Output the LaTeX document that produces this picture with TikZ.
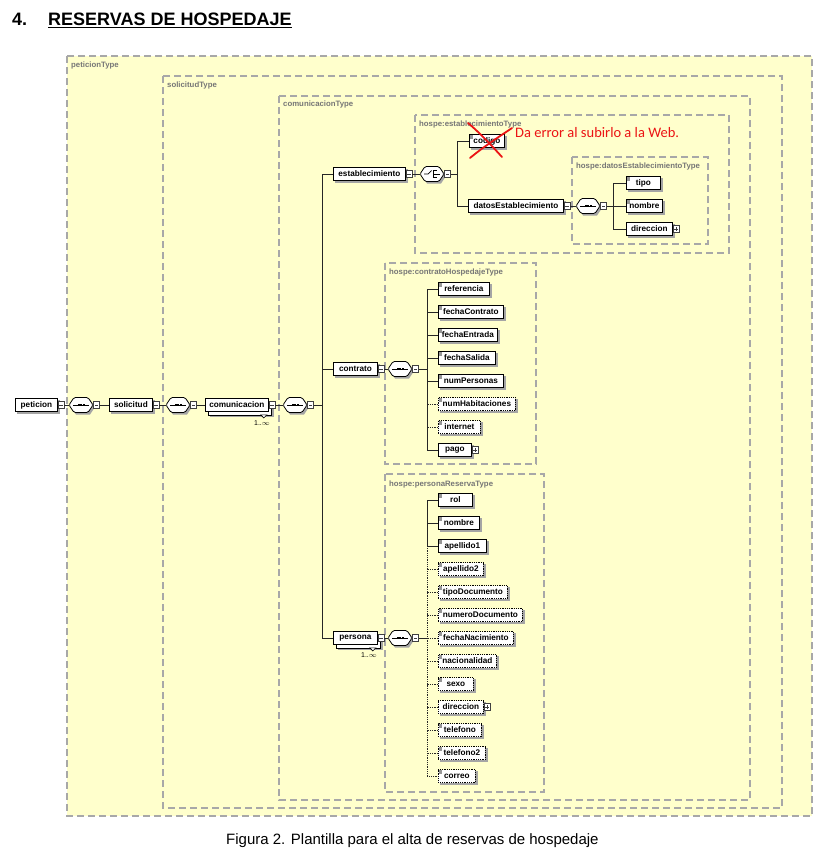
\documentclass[tikz,border=0pt]{standalone}
\usepackage{fontspec}
\setmainfont{Liberation Sans}
\newfontfamily\calibrifont{Carlito}

\definecolor{typefill}{RGB}{255,255,204}
\definecolor{typeline}{RGB}{168,168,168}
\definecolor{typelabel}{RGB}{118,118,118}
\definecolor{shadegray}{RGB}{165,165,165}
\definecolor{icongray}{RGB}{150,150,150}
\definecolor{errred}{RGB}{235,20,20}

\pgfdeclarelayer{types}
\pgfdeclarelayer{shades}
\pgfsetlayers{types,shades,main}

\tikzset{
  typebox/.style={draw=typeline, fill=typefill, line width=1.2pt, dash pattern=on 7pt off 4pt},
  typelbl/.style={anchor=west, text=typelabel, inner sep=0pt,
    font=\fontsize{7.8}{9}\selectfont\bfseries},
  elem/.style={draw, fill=white, line width=0.8pt, minimum height=13pt, inner sep=0pt,
    anchor=west, font=\fontsize{8.2}{9}\selectfont\bfseries},
  optelem/.style={elem, densely dotted},
  mbtn/.style={draw=black!75, fill=white, line width=0.6pt, minimum width=6pt, minimum height=6.5pt,
    inner sep=0pt, anchor=west,
    path picture={\draw[line width=0.6pt] ([xshift=1.3pt]path picture bounding box.west) -- ([xshift=-1.3pt]path picture bounding box.east);}},
  pbtn/.style={mbtn,
    path picture={\draw[line width=0.6pt] ([xshift=1.3pt]path picture bounding box.west) -- ([xshift=-1.3pt]path picture bounding box.east);
      \draw[line width=0.6pt] ([yshift=-1.3pt]path picture bounding box.north) -- ([yshift=1.3pt]path picture bounding box.south);}},
  compo/.style={minimum width=24pt, minimum height=15pt, inner sep=0pt, anchor=west},
  conn/.style={line width=0.8pt, black!85},
  optconn/.style={conn, densely dotted},
  occ/.style={font=\fontsize{7}{8}\selectfont, inner sep=0pt},
}

% gray drop shadow under a node
\newcommand{\shadebox}[1]{%
  \begin{pgfonlayer}{shades}
    \fill[shadegray] ([shift={(2pt,-2pt)}]#1.south west) rectangle ([shift={(2pt,-2pt)}]#1.north east);
  \end{pgfonlayer}}

% element box with shadow
\newcommand{\boxel}[6]{%
  \node[#2, minimum width=#5] (#1) at (#3,#4) {#6};
  \shadebox{#1}}

% element with simple content: box plus the small type mark in its corner
\newcommand{\leafel}[6]{%
  \boxel{#1}{#2}{#3}{#4}{#5}{#6}
  \fill[icongray] ([shift={(1pt,-1pt)}]#1.north west) rectangle ++(3pt,-4pt);
}

% repeatable element: stacked copy behind the box
\newcommand{\multiel}[5]{%
  \node[elem, minimum width=#4] (#1) at (#2,#3) {#5};
  \begin{pgfonlayer}{shades}
    \fill[shadegray] ([shift={(5pt,-5pt)}]#1.south west) rectangle ([shift={(5pt,-5pt)}]#1.north east);
    \draw[fill=white, line width=0.8pt] ([shift={(3pt,-3pt)}]#1.south west) rectangle ([shift={(3pt,-3pt)}]#1.north east);
  \end{pgfonlayer}
  \draw[fill=white, line width=0.6pt] ([xshift=-8pt,yshift=-3pt]#1.south east) -- ++(6pt,0) -- ++(-3pt,-3pt) -- cycle;
}

% compositor: hexagonal badge with a sequence (1) or choice (2) symbol
\newcommand{\compo}[4]{%
  \node[compo] (#1) at (#2,#3) {};
  \fill[shadegray] ([xshift=2pt,yshift=-2pt]#2,#3) -- ++(5,-7.5) -- ++(14,0) -- ++(5,7.5)
     -- ++(-5,7.5) -- ++(-14,0) -- cycle;
  \draw[fill=white, line width=0.8pt, rounded corners=1.5pt] (#2,#3) -- ++(5,-7.5) -- ++(14,0)
     -- ++(5,7.5) -- ++(-5,7.5) -- ++(-14,0) -- cycle;
  \ifnum#4=1
    \draw[line width=0.7pt] ([xshift=4pt]#1.west) -- ([xshift=-4pt]#1.east);
    \foreach \dx in {-2.6,0,2.6}
      \fill ([xshift=\dx pt]#1.center) ++(-0.95pt,-0.95pt) rectangle ++(1.9pt,1.9pt);
  \else
    \draw[line width=0.7pt] ([xshift=4pt]#1.west) -- ([xshift=8pt]#1.west)
       -- ([xshift=11.5pt,yshift=3.5pt]#1.west);
    \draw[line width=0.7pt] ([xshift=13.5pt,yshift=4pt]#1.west) -- ([xshift=13.5pt,yshift=-4pt]#1.west);
    \foreach \dy in {3.5,0,-3.5}
      \draw[line width=0.7pt] ([xshift=13.5pt,yshift=\dy pt]#1.west) -- ++(3pt,0);
    \draw[line width=0.7pt] ([xshift=16.5pt]#1.west) -- ([xshift=-4pt]#1.east);
  \fi
}

\begin{document}
\begin{tikzpicture}[x=1pt,y=-1pt]
\begin{pgfonlayer}{types}
\fill[white] (0,0) rectangle (833,862);
\end{pgfonlayer}
\useasboundingbox (0,0) rectangle (833,862);

% heading
\node[anchor=base west, inner sep=0pt, font=\fontsize{18}{20}\selectfont\bfseries] (secnum) at (12,25) {4.};
\node[anchor=base west, inner sep=0pt, font=\fontsize{18}{20}\selectfont\bfseries] (sectitle) at (48,25) {RESERVAS DE HOSPEDAJE};
\draw[line width=1.4pt] ([yshift=-2.6pt]sectitle.base west) -- ([yshift=-2.6pt]sectitle.base east);

% nested complex types
\begin{pgfonlayer}{types}
\draw[typebox] (67,56) rectangle (812,816);
\draw[typebox] (163,76) rectangle (782,808);
\draw[typebox] (279,96) rectangle (750,800);
\draw[typebox] (415,115) rectangle (729,253);
\draw[typebox] (572,157) rectangle (708,244);
\draw[typebox] (385,263) rectangle (536,464);
\draw[typebox] (385,474) rectangle (544,792);
\end{pgfonlayer}
\node[typelbl] (lblpeticion) at (71,65) {peticionType};
\node[typelbl] (lblsolicitud) at (167,85) {solicitudType};
\node[typelbl] (lblcomunicacion) at (283,104) {comunicacionType};
\node[typelbl] (lblestab) at (419,124) {hospe:establecimientoType};
\node[typelbl] (lbldatos) at (576,166) {hospe:datosEstablecimientoType};
\node[typelbl] (lblcontrato) at (389,272) {hospe:contratoHospedajeType};
\node[typelbl] (lblpersona) at (389,484) {hospe:personaReservaType};

% root chain
\boxel{peticion}{elem}{15}{405}{42}{peticion}
\node[mbtn] (peticion-b) at (peticion.east) {};
\compo{seq1}{69}{405}{1}
\node[mbtn] (seq1-b) at (seq1.east) {};
\boxel{solicitud}{elem}{109}{405}{43}{solicitud}
\node[mbtn] (solicitud-b) at (solicitud.east) {};
\compo{seq2}{166}{405}{1}
\node[mbtn] (seq2-b) at (seq2.east) {};
\multiel{comunicacion}{205}{405}{63}{comunicacion}
\node[mbtn] (comunicacion-b) at (comunicacion.east) {};
\node[occ] (comunicacion-occ) at (262,423) {1..$\infty$};
\compo{seq3}{283}{405}{1}
\node[mbtn] (seq3-b) at (seq3.east) {};

% establecimiento
\boxel{establecimiento}{elem}{333}{174}{72}{establecimiento}
\node[mbtn] (establecimiento-b) at (establecimiento.east) {};
\compo{choice1}{420}{174}{2}
\node[mbtn] (choice1-b) at (choice1.east) {};
\leafel{codigo}{elem}{469}{141}{35}{codigo}
\boxel{datosEstablecimiento}{elem}{468}{206}{95}{datosEstablecimiento}
\node[mbtn] (datosEstablecimiento-b) at (datosEstablecimiento.east) {};
\compo{seq4}{576}{206}{1}
\node[mbtn] (seq4-b) at (seq4.east) {};
\leafel{tipo}{elem}{626}{183}{34}{tipo}
\leafel{dnombre}{elem}{626}{206}{36}{nombre}
\boxel{ddireccion}{elem}{626}{229}{46}{direccion}
\node[pbtn] (ddireccion-b) at (ddireccion.east) {};

% contrato
\boxel{contrato}{elem}{333}{369}{44}{contrato}
\node[mbtn] (contrato-b) at (contrato.east) {};
\compo{seq5}{388}{369}{1}
\node[mbtn] (seq5-b) at (seq5.east) {};
\leafel{referencia}{elem}{438}{289}{51}{referencia}
\leafel{fechaContrato}{elem}{438}{312}{65}{fechaContrato}
\leafel{fechaEntrada}{elem}{438}{335}{59}{fechaEntrada}
\leafel{fechaSalida}{elem}{438}{358}{57}{fechaSalida}
\leafel{numPersonas}{elem}{438}{381}{65}{numPersonas}
\leafel{numHabitaciones}{optelem}{438}{404}{77}{numHabitaciones}
\leafel{internet}{optelem}{438}{427}{42}{internet}
\boxel{pago}{elem}{438}{450}{33}{pago}
\node[pbtn] (pago-b) at (pago.east) {};

% persona
\multiel{persona}{333}{638}{44}{persona}
\node[mbtn] (persona-b) at (persona.east) {};
\node[occ] (persona-occ) at (369,655) {1..$\infty$};
\compo{seq6}{388}{638}{1}
\node[mbtn] (seq6-b) at (seq6.east) {};
\leafel{rol}{elem}{438}{500}{34}{rol}
\leafel{nombre}{elem}{438}{523}{41}{nombre}
\leafel{apellido1}{elem}{438}{546}{48}{apellido1}
\leafel{apellido2}{optelem}{438}{569}{45}{apellido2}
\leafel{tipoDocumento}{optelem}{438}{592}{69}{tipoDocumento}
\leafel{numeroDocumento}{optelem}{438}{615}{84}{numeroDocumento}
\leafel{fechaNacimiento}{optelem}{438}{638}{75}{fechaNacimiento}
\leafel{nacionalidad}{optelem}{438}{661}{58}{nacionalidad}
\leafel{sexo}{optelem}{438}{684}{35}{sexo}
\boxel{direccion}{optelem}{438}{707}{45}{direccion}
\node[pbtn] (direccion-b) at (direccion.east) {};
\leafel{telefono}{optelem}{438}{730}{43}{telefono}
\leafel{telefono2}{optelem}{438}{753}{47}{telefono2}
\leafel{correo}{optelem}{438}{776}{37}{correo}

% connectors: root chain
\draw[conn] (peticion-b.east) -- (seq1.west);
\draw[conn] (seq1-b.east) -- (solicitud.west);
\draw[conn] (solicitud-b.east) -- (seq2.west);
\draw[conn] (seq2-b.east) -- (comunicacion.west);
\draw[conn] (comunicacion-b.east) -- (seq3.west);
\coordinate (trunk) at (322,405);
\draw[conn] (seq3-b.east) -- (trunk);
\draw[conn] (establecimiento.west) -| (trunk |- persona.west) -- (persona.west);
\draw[conn] (contrato.west) -- (trunk |- contrato.west);

% connectors: establecimiento
\draw[conn] (establecimiento-b.east) -- (choice1.west);
\coordinate (bre) at (457,174);
\draw[conn] (choice1-b.east) -- (bre);
\draw[conn] (codigo.west) -| (bre |- datosEstablecimiento.west) -- (datosEstablecimiento.west);
\draw[conn] (datosEstablecimiento-b.east) -- (seq4.west);
\coordinate (brd) at (613,206);
\draw[conn] (seq4-b.east) -- (brd);
\draw[conn] (tipo.west) -| (brd |- ddireccion.west) -- (ddireccion.west);
\draw[conn] (dnombre.west) -- (brd |- dnombre.west);

% connectors: contrato
\draw[conn] (contrato-b.east) -- (seq5.west);
\coordinate (brc) at (427,369);
\draw[conn] (seq5-b.east) -- (brc);
\draw[conn] (referencia.west) -| (brc |- pago.west) -- (pago.west);
\foreach \n in {fechaContrato,fechaEntrada,fechaSalida,numPersonas}
  \draw[conn] (\n.west) -- (brc |- \n.west);
\foreach \n in {numHabitaciones,internet}
  \draw[optconn] (\n.west) -- (brc |- \n.west);

% connectors: persona
\draw[conn] (persona-b.east) -- (seq6.west);
\coordinate (brp) at (427,638);
\draw[conn] (seq6-b.east) -- (brp);
\draw[conn] (rol.west) -| (brp |- apellido1.west) -- (apellido1.west);
\draw[conn] (nombre.west) -- (brp |- nombre.west);
\draw[optconn] (brp |- apellido1.west) -- (brp |- correo.west) -- (correo.west);
\foreach \n in {apellido2,tipoDocumento,numeroDocumento,fechaNacimiento,nacionalidad,sexo,direccion,telefono,telefono2}
  \draw[optconn] (\n.west) -- (brp |- \n.west);

% handwritten note over codigo
\draw[errred, line width=1.8pt, line cap=round] (468,123) .. controls (480,133) and (492,146) .. (502,157);
\draw[errred, line width=1.8pt, line cap=round] (512,128) .. controls (497,138) and (482,148) .. (470,158);
\node[anchor=base west, inner sep=0pt, text=errred, font=\calibrifont\fontsize{14.5}{16}\selectfont] (errnote) at (515,137) {Da error al subirlo a la Web.};

% caption
\node[anchor=base west, inner sep=0pt, font=\fontsize{15}{17}\selectfont] (caption) at (226,844) {Figura 2. Plantilla para el alta de reservas de hospedaje};
\end{tikzpicture}
\end{document}
